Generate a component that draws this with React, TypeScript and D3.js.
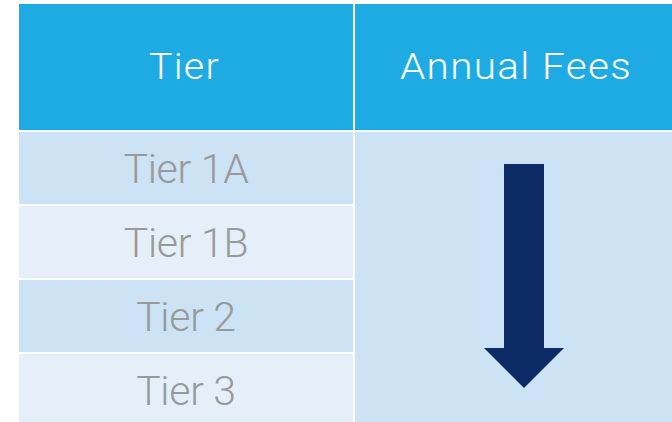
import React from "react";
import * as d3 from "d3";

const headers = ["Tier", "Annual Fees"];
const tiers = ["Tier 1A", "Tier 1B", "Tier 2", "Tier 3"];

const W = 672;
const H = 422;

const App: React.FC = () => {
	const left = 19;
	const mid = 354;
	const right = 694;
	const top = 4;
	const headerH = 126;
	const gap = 2;

	const y = d3
		.scaleBand<string>()
		.domain(tiers)
		.range([top + headerH + gap, top + headerH + gap + tiers.length * 74])
		.paddingInner(0);

	const rowFill = (i: number) => (i % 2 === 0 ? "#cce2f5" : "#e4eff9");
	const font = "Roboto, 'Open Sans', sans-serif";

	const rowsTop = y(tiers[0])!;
	const rowsBottom = H + 10;
	const ax = 524;
	const shaftW = 40;
	const headW = 80;
	const shaftTop = 164;
	const headBase = 348;
	const tip = 388;

	const arrow = d3.line()([
		[ax - shaftW / 2, shaftTop],
		[ax + shaftW / 2, shaftTop],
		[ax + shaftW / 2, headBase],
		[ax + headW / 2, headBase],
		[ax, tip],
		[ax - headW / 2, headBase],
		[ax - shaftW / 2, headBase],
	] as [number, number][]) + "Z";

	// header: cap ~26px, rows: cap ~29px
	const headerSize = 36.5;
	const rowSize = 41;
	const headerBase = top + headerH / 2 + headerSize * 0.711 / 2 - 1;
	// header widths
	const headerCols = [
		{ x: 149, w: 71 },
		{ x: 400, w: 232 },
	];

	return (
		<svg
			width={W}
			height={H}
			viewBox={`0 0 ${W} ${H}`}
			style={{ position: "fixed", left: 0, top: 0, background: "#fff" }}
		>
			<rect x={left} y={top} width={mid - 1 - left} height={headerH} fill="#1eabe3" />
			<rect x={mid + 1} y={top} width={right - mid - 1} height={headerH} fill="#1eabe3" />
			{headers.map((h, i) => (
				<text
					key={h}
					x={headerCols[i].x}
					y={headerBase}
					fill="#fff"
					fontFamily={font}
					fontWeight={300}
					fontSize={headerSize}
					letterSpacing={1.2}
					textLength={headerCols[i].w}
					lengthAdjust="spacingAndGlyphs"
				>
					{h}
				</text>
			))}
			{tiers.map((t, i) => (
				<g key={t}>
					<rect
						x={left}
						y={y(t)!}
						width={mid - 1 - left}
						height={y.bandwidth() - gap}
						fill={rowFill(i)}
					/>
					<text
						x={(left + mid) / 2 - 0.5}
						y={y(t)! + (y.bandwidth() - gap) / 2 + (rowSize * 0.711) / 2}
						fill="#999999"
						fontFamily={font}
						fontWeight={300}
						fontSize={rowSize}
						letterSpacing={-0.3}
						textAnchor="middle"
					>
						{t}
					</text>
				</g>
			))}
			<rect
				x={mid + 1}
				y={rowsTop}
				width={right - mid - 1}
				height={rowsBottom - rowsTop}
				fill="#cce2f5"
			/>
			<path d={arrow} fill="#0c2b66" />
		</svg>
	);
};

export default App;
